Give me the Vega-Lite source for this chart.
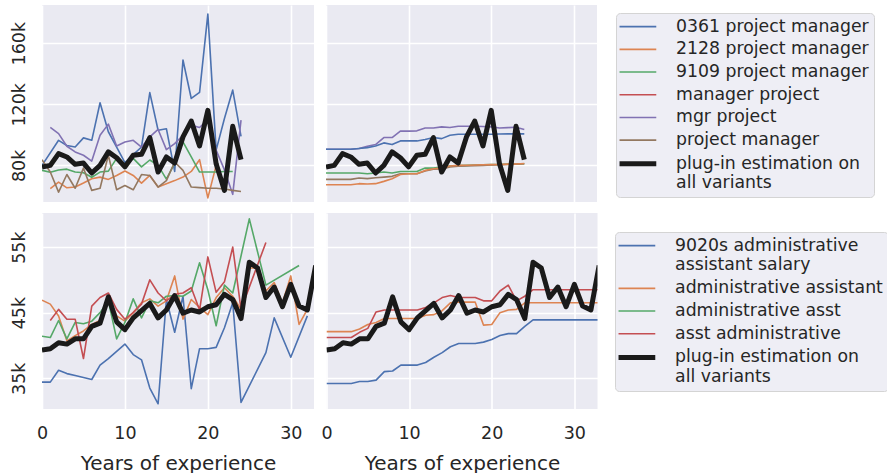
{
  "$schema": "https://vega.github.io/schema/vega-lite/v6.json",
  "background": "white",
  "padding": {"left": 10, "top": 5, "right": 0, "bottom": 0},
  "datasets": {
    "pmest": [
      {"s":"plug-in estimation on all variants","x":0,"y":78.9},{"s":"plug-in estimation on all variants","x":1,"y":80},{"s":"plug-in estimation on all variants","x":2,"y":87.7},{"s":"plug-in estimation on all variants","x":3,"y":85.5},{"s":"plug-in estimation on all variants","x":4,"y":80.7},{"s":"plug-in estimation on all variants","x":5,"y":81.5},{"s":"plug-in estimation on all variants","x":6,"y":75},{"s":"plug-in estimation on all variants","x":7,"y":80},{"s":"plug-in estimation on all variants","x":8,"y":88.8},{"s":"plug-in estimation on all variants","x":9,"y":85},{"s":"plug-in estimation on all variants","x":10,"y":79},{"s":"plug-in estimation on all variants","x":11,"y":86.6},{"s":"plug-in estimation on all variants","x":12,"y":87.2},{"s":"plug-in estimation on all variants","x":13,"y":98.2},{"s":"plug-in estimation on all variants","x":14,"y":75.6},{"s":"plug-in estimation on all variants","x":15,"y":85.5},{"s":"plug-in estimation on all variants","x":16,"y":81.5},{"s":"plug-in estimation on all variants","x":17,"y":98.6},{"s":"plug-in estimation on all variants","x":18,"y":109},{"s":"plug-in estimation on all variants","x":19,"y":92.7},{"s":"plug-in estimation on all variants","x":20,"y":116},{"s":"plug-in estimation on all variants","x":21,"y":81},{"s":"plug-in estimation on all variants","x":22,"y":63.6},{"s":"plug-in estimation on all variants","x":23,"y":105.6},{"s":"plug-in estimation on all variants","x":24,"y":83.7}
    ],
    "tl": [
      {"s":"0361 project manager","x":0,"y":80},{"s":"0361 project manager","x":2,"y":96.4},{"s":"0361 project manager","x":3,"y":93},{"s":"0361 project manager","x":4,"y":92},{"s":"0361 project manager","x":5,"y":98},{"s":"0361 project manager","x":6,"y":96.4},{"s":"0361 project manager","x":7,"y":121},{"s":"0361 project manager","x":8,"y":102},{"s":"0361 project manager","x":9,"y":92},{"s":"0361 project manager","x":10,"y":81.8},{"s":"0361 project manager","x":11,"y":87},{"s":"0361 project manager","x":12,"y":92},{"s":"0361 project manager","x":13,"y":127.6},{"s":"0361 project manager","x":14,"y":103},{"s":"0361 project manager","x":15,"y":104},{"s":"0361 project manager","x":16,"y":76},{"s":"0361 project manager","x":17,"y":149},{"s":"0361 project manager","x":18,"y":123.8},{"s":"0361 project manager","x":19,"y":127.8},{"s":"0361 project manager","x":20,"y":179},{"s":"0361 project manager","x":21,"y":90},{"s":"0361 project manager","x":22,"y":110.7},{"s":"0361 project manager","x":23,"y":129.3},{"s":"0361 project manager","x":24,"y":99},
      {"s":"2128 project manager","x":1,"y":64.7},{"s":"2128 project manager","x":2,"y":69},{"s":"2128 project manager","x":3,"y":65.3},{"s":"2128 project manager","x":4,"y":65.8},{"s":"2128 project manager","x":5,"y":68.4},{"s":"2128 project manager","x":6,"y":71.2},{"s":"2128 project manager","x":7,"y":72.3},{"s":"2128 project manager","x":8,"y":70.8},{"s":"2128 project manager","x":9,"y":73.4},{"s":"2128 project manager","x":10,"y":76.3},{"s":"2128 project manager","x":11,"y":73.4},{"s":"2128 project manager","x":12,"y":68.4},{"s":"2128 project manager","x":13,"y":73.4},{"s":"2128 project manager","x":14,"y":65.8},{"s":"2128 project manager","x":15,"y":68},{"s":"2128 project manager","x":16,"y":70},{"s":"2128 project manager","x":17,"y":72.3},{"s":"2128 project manager","x":18,"y":76},{"s":"2128 project manager","x":19,"y":83.7},{"s":"2128 project manager","x":20,"y":58.7},{"s":"2128 project manager","x":21,"y":80},
      {"s":"9109 project manager","x":0,"y":76.7},{"s":"9109 project manager","x":1,"y":75.5},{"s":"9109 project manager","x":2,"y":77},{"s":"9109 project manager","x":3,"y":77.5},{"s":"9109 project manager","x":4,"y":75.6},{"s":"9109 project manager","x":5,"y":75.2},{"s":"9109 project manager","x":6,"y":72.2},{"s":"9109 project manager","x":7,"y":75.6},{"s":"9109 project manager","x":8,"y":76.2},{"s":"9109 project manager","x":9,"y":84.6},{"s":"9109 project manager","x":10,"y":78.4},{"s":"9109 project manager","x":11,"y":84.6},{"s":"9109 project manager","x":12,"y":79},{"s":"9109 project manager","x":13,"y":83.5},{"s":"9109 project manager","x":14,"y":80},{"s":"9109 project manager","x":15,"y":71},{"s":"9109 project manager","x":16,"y":81.5},{"s":"9109 project manager","x":17,"y":95.3},{"s":"9109 project manager","x":18,"y":85.5},{"s":"9109 project manager","x":19,"y":75.6},{"s":"9109 project manager","x":20,"y":75.6},{"s":"9109 project manager","x":21,"y":75.6},{"s":"9109 project manager","x":22,"y":76},{"s":"9109 project manager","x":23,"y":76},
      {"s":"mgr project","x":1,"y":104.8},{"s":"mgr project","x":2,"y":100.8},{"s":"mgr project","x":3,"y":92.5},{"s":"mgr project","x":4,"y":88.8},{"s":"mgr project","x":5,"y":86.6},{"s":"mgr project","x":6,"y":82.8},{"s":"mgr project","x":7,"y":99.7},{"s":"mgr project","x":8,"y":107},{"s":"mgr project","x":9,"y":92.7},{"s":"mgr project","x":10,"y":95.3},{"s":"mgr project","x":11,"y":96.4},{"s":"mgr project","x":12,"y":92},{"s":"mgr project","x":13,"y":98.6},{"s":"mgr project","x":14,"y":103.5},{"s":"mgr project","x":15,"y":90.3},{"s":"mgr project","x":16,"y":94.2},{"s":"mgr project","x":17,"y":99.7},{"s":"mgr project","x":18,"y":106.3},{"s":"mgr project","x":19,"y":104.8},{"s":"mgr project","x":20,"y":110},{"s":"mgr project","x":21,"y":90},{"s":"mgr project","x":22,"y":77},{"s":"mgr project","x":23,"y":61},{"s":"mgr project","x":24,"y":109.6},
      {"s":"project manager","x":0,"y":83.7},{"s":"project manager","x":1,"y":75.6},{"s":"project manager","x":2,"y":62.5},{"s":"project manager","x":3,"y":74},{"s":"project manager","x":4,"y":65},{"s":"project manager","x":5,"y":78.2},{"s":"project manager","x":6,"y":63.6},{"s":"project manager","x":7,"y":65},{"s":"project manager","x":8,"y":86.6},{"s":"project manager","x":9,"y":64},{"s":"project manager","x":10,"y":66.8},{"s":"project manager","x":11,"y":64},{"s":"project manager","x":12,"y":74},{"s":"project manager","x":13,"y":73.4},{"s":"project manager","x":14,"y":65.8},{"s":"project manager","x":15,"y":70},{"s":"project manager","x":16,"y":82.2},{"s":"project manager","x":17,"y":76.7},{"s":"project manager","x":18,"y":65.8},{"s":"project manager","x":19,"y":65.4},{"s":"project manager","x":20,"y":65},{"s":"project manager","x":21,"y":65},{"s":"project manager","x":22,"y":64.5},{"s":"project manager","x":23,"y":63.6},{"s":"project manager","x":24,"y":62.9}
    ],
    "tr": [
      {"s":"mgr project","x":0,"y":90.5},{"s":"mgr project","x":1,"y":90.5},{"s":"mgr project","x":2,"y":90.5},{"s":"mgr project","x":3,"y":90.5},{"s":"mgr project","x":4,"y":91},{"s":"mgr project","x":5,"y":92.5},{"s":"mgr project","x":6,"y":93.6},{"s":"mgr project","x":7,"y":98.2},{"s":"mgr project","x":8,"y":98.2},{"s":"mgr project","x":9,"y":102.4},{"s":"mgr project","x":10,"y":102.4},{"s":"mgr project","x":11,"y":102.6},{"s":"mgr project","x":12,"y":104.5},{"s":"mgr project","x":13,"y":104.5},{"s":"mgr project","x":14,"y":105.2},{"s":"mgr project","x":15,"y":104.8},{"s":"mgr project","x":16,"y":105.6},{"s":"mgr project","x":17,"y":105.6},{"s":"mgr project","x":18,"y":105.6},{"s":"mgr project","x":19,"y":105.4},{"s":"mgr project","x":20,"y":105.2},{"s":"mgr project","x":21,"y":104.5},{"s":"mgr project","x":22,"y":104.7},{"s":"mgr project","x":23,"y":104.9},{"s":"mgr project","x":24,"y":103.5},
      {"s":"0361 project manager","x":0,"y":90.5},{"s":"0361 project manager","x":1,"y":90.5},{"s":"0361 project manager","x":2,"y":90.5},{"s":"0361 project manager","x":3,"y":90.5},{"s":"0361 project manager","x":4,"y":91},{"s":"0361 project manager","x":5,"y":91.6},{"s":"0361 project manager","x":6,"y":92.7},{"s":"0361 project manager","x":7,"y":94.7},{"s":"0361 project manager","x":8,"y":93.6},{"s":"0361 project manager","x":9,"y":96},{"s":"0361 project manager","x":10,"y":96},{"s":"0361 project manager","x":11,"y":96},{"s":"0361 project manager","x":12,"y":96.9},{"s":"0361 project manager","x":13,"y":98.2},{"s":"0361 project manager","x":14,"y":97.5},{"s":"0361 project manager","x":15,"y":99.7},{"s":"0361 project manager","x":16,"y":100.4},{"s":"0361 project manager","x":17,"y":100.4},{"s":"0361 project manager","x":18,"y":100.4},{"s":"0361 project manager","x":19,"y":100.4},{"s":"0361 project manager","x":20,"y":100.4},{"s":"0361 project manager","x":21,"y":100.5},{"s":"0361 project manager","x":22,"y":100.6},{"s":"0361 project manager","x":23,"y":100.6},{"s":"0361 project manager","x":24,"y":100.6},
      {"s":"9109 project manager","x":0,"y":75},{"s":"9109 project manager","x":1,"y":75},{"s":"9109 project manager","x":2,"y":75},{"s":"9109 project manager","x":3,"y":75},{"s":"9109 project manager","x":4,"y":75},{"s":"9109 project manager","x":5,"y":74.5},{"s":"9109 project manager","x":6,"y":75},{"s":"9109 project manager","x":7,"y":75.6},{"s":"9109 project manager","x":8,"y":75},{"s":"9109 project manager","x":9,"y":76},{"s":"9109 project manager","x":10,"y":76},{"s":"9109 project manager","x":11,"y":76},{"s":"9109 project manager","x":12,"y":78.2},{"s":"9109 project manager","x":13,"y":78.2},{"s":"9109 project manager","x":14,"y":78.9},{"s":"9109 project manager","x":15,"y":79.6},{"s":"9109 project manager","x":16,"y":79.8},{"s":"9109 project manager","x":17,"y":80},{"s":"9109 project manager","x":18,"y":80.2},{"s":"9109 project manager","x":19,"y":80.4},{"s":"9109 project manager","x":20,"y":80.5},{"s":"9109 project manager","x":21,"y":80.6},{"s":"9109 project manager","x":22,"y":80.8},{"s":"9109 project manager","x":23,"y":80.9},{"s":"9109 project manager","x":24,"y":81},
      {"s":"project manager","x":0,"y":70.8},{"s":"project manager","x":1,"y":70.8},{"s":"project manager","x":2,"y":70.8},{"s":"project manager","x":3,"y":70.8},{"s":"project manager","x":4,"y":71.7},{"s":"project manager","x":5,"y":71.3},{"s":"project manager","x":6,"y":71.9},{"s":"project manager","x":7,"y":72.3},{"s":"project manager","x":8,"y":72.8},{"s":"project manager","x":9,"y":74.5},{"s":"project manager","x":10,"y":74.5},{"s":"project manager","x":11,"y":74.5},{"s":"project manager","x":12,"y":76.3},{"s":"project manager","x":13,"y":77.4},{"s":"project manager","x":14,"y":77.6},{"s":"project manager","x":15,"y":78.9},{"s":"project manager","x":16,"y":79.4},{"s":"project manager","x":17,"y":79.6},{"s":"project manager","x":18,"y":79.8},{"s":"project manager","x":19,"y":80},{"s":"project manager","x":20,"y":80.2},{"s":"project manager","x":21,"y":80.4},{"s":"project manager","x":22,"y":80.6},{"s":"project manager","x":23,"y":80.8},{"s":"project manager","x":24,"y":81},
      {"s":"2128 project manager","x":0,"y":67.3},{"s":"2128 project manager","x":1,"y":67.3},{"s":"2128 project manager","x":2,"y":67.3},{"s":"2128 project manager","x":3,"y":67.3},{"s":"2128 project manager","x":4,"y":68},{"s":"2128 project manager","x":5,"y":67.8},{"s":"2128 project manager","x":6,"y":68},{"s":"2128 project manager","x":7,"y":69.5},{"s":"2128 project manager","x":8,"y":71.2},{"s":"2128 project manager","x":9,"y":74},{"s":"2128 project manager","x":10,"y":74.5},{"s":"2128 project manager","x":11,"y":74.5},{"s":"2128 project manager","x":12,"y":76.7},{"s":"2128 project manager","x":13,"y":77.8},{"s":"2128 project manager","x":14,"y":78.2},{"s":"2128 project manager","x":15,"y":79.6},{"s":"2128 project manager","x":16,"y":80},{"s":"2128 project manager","x":17,"y":80.1},{"s":"2128 project manager","x":18,"y":80.2},{"s":"2128 project manager","x":19,"y":80.4},{"s":"2128 project manager","x":20,"y":80.5},{"s":"2128 project manager","x":21,"y":80.6},{"s":"2128 project manager","x":22,"y":80.8},{"s":"2128 project manager","x":23,"y":80.9},{"s":"2128 project manager","x":24,"y":81.2}
    ],
    "aaest": [
      {"s":"plug-in estimation on all variants","x":0,"y":39.3},{"s":"plug-in estimation on all variants","x":1,"y":39.5},{"s":"plug-in estimation on all variants","x":2,"y":40.4},{"s":"plug-in estimation on all variants","x":3,"y":40.2},{"s":"plug-in estimation on all variants","x":4,"y":41},{"s":"plug-in estimation on all variants","x":5,"y":41},{"s":"plug-in estimation on all variants","x":6,"y":42.9},{"s":"plug-in estimation on all variants","x":7,"y":43.4},{"s":"plug-in estimation on all variants","x":8,"y":47.4},{"s":"plug-in estimation on all variants","x":9,"y":43.6},{"s":"plug-in estimation on all variants","x":10,"y":42.4},{"s":"plug-in estimation on all variants","x":11,"y":44.2},{"s":"plug-in estimation on all variants","x":12,"y":45.3},{"s":"plug-in estimation on all variants","x":13,"y":46.4},{"s":"plug-in estimation on all variants","x":14,"y":44.2},{"s":"plug-in estimation on all variants","x":15,"y":45.4},{"s":"plug-in estimation on all variants","x":16,"y":47.6},{"s":"plug-in estimation on all variants","x":17,"y":44.9},{"s":"plug-in estimation on all variants","x":18,"y":45.4},{"s":"plug-in estimation on all variants","x":19,"y":45.1},{"s":"plug-in estimation on all variants","x":20,"y":45.9},{"s":"plug-in estimation on all variants","x":21,"y":46.2},{"s":"plug-in estimation on all variants","x":22,"y":47.8},{"s":"plug-in estimation on all variants","x":23,"y":47},{"s":"plug-in estimation on all variants","x":24,"y":44.1},{"s":"plug-in estimation on all variants","x":25,"y":52.7},{"s":"plug-in estimation on all variants","x":26,"y":51.8},{"s":"plug-in estimation on all variants","x":27,"y":47.3},{"s":"plug-in estimation on all variants","x":28,"y":48.9},{"s":"plug-in estimation on all variants","x":29,"y":45.9},{"s":"plug-in estimation on all variants","x":30,"y":49.3},{"s":"plug-in estimation on all variants","x":31,"y":46},{"s":"plug-in estimation on all variants","x":32,"y":45.4},{"s":"plug-in estimation on all variants","x":33,"y":52.2}
    ],
    "bl": [
      {"s":"9020s administrative assistant salary","x":0,"y":34.4},{"s":"9020s administrative assistant salary","x":1,"y":34.4},{"s":"9020s administrative assistant salary","x":2,"y":36.2},{"s":"9020s administrative assistant salary","x":3,"y":35.7},{"s":"9020s administrative assistant salary","x":4,"y":35.4},{"s":"9020s administrative assistant salary","x":5,"y":35.1},{"s":"9020s administrative assistant salary","x":6,"y":34.8},{"s":"9020s administrative assistant salary","x":7,"y":37},{"s":"9020s administrative assistant salary","x":8,"y":38},{"s":"9020s administrative assistant salary","x":9,"y":39.1},{"s":"9020s administrative assistant salary","x":10,"y":40.2},{"s":"9020s administrative assistant salary","x":11,"y":38.6},{"s":"9020s administrative assistant salary","x":12,"y":37.8},{"s":"9020s administrative assistant salary","x":13,"y":33.5},{"s":"9020s administrative assistant salary","x":14,"y":31.1},{"s":"9020s administrative assistant salary","x":15,"y":47},{"s":"9020s administrative assistant salary","x":16,"y":42},{"s":"9020s administrative assistant salary","x":17,"y":47.5},{"s":"9020s administrative assistant salary","x":18,"y":33.4},{"s":"9020s administrative assistant salary","x":19,"y":39.5},{"s":"9020s administrative assistant salary","x":20,"y":39.5},{"s":"9020s administrative assistant salary","x":21,"y":39.7},{"s":"9020s administrative assistant salary","x":22,"y":42.7},{"s":"9020s administrative assistant salary","x":23,"y":46.5},{"s":"9020s administrative assistant salary","x":24,"y":31.3},{"s":"9020s administrative assistant salary","x":27,"y":38.9},{"s":"9020s administrative assistant salary","x":28,"y":44.2},{"s":"9020s administrative assistant salary","x":30,"y":38.2},{"s":"9020s administrative assistant salary","x":32,"y":44.5},
      {"s":"administrative assistant","x":0,"y":46.9},{"s":"administrative assistant","x":1,"y":46.3},{"s":"administrative assistant","x":2,"y":44.5},{"s":"administrative assistant","x":3,"y":40.7},{"s":"administrative assistant","x":4,"y":41.5},{"s":"administrative assistant","x":5,"y":42.2},{"s":"administrative assistant","x":6,"y":43.2},{"s":"administrative assistant","x":7,"y":43.8},{"s":"administrative assistant","x":8,"y":47.5},{"s":"administrative assistant","x":9,"y":44.5},{"s":"administrative assistant","x":10,"y":43.7},{"s":"administrative assistant","x":11,"y":45},{"s":"administrative assistant","x":12,"y":46.5},{"s":"administrative assistant","x":13,"y":47.1},{"s":"administrative assistant","x":14,"y":46},{"s":"administrative assistant","x":15,"y":46.8},{"s":"administrative assistant","x":16,"y":50.6},{"s":"administrative assistant","x":17,"y":44},{"s":"administrative assistant","x":18,"y":47},{"s":"administrative assistant","x":19,"y":45.8},{"s":"administrative assistant","x":20,"y":44.7},{"s":"administrative assistant","x":21,"y":47.3},{"s":"administrative assistant","x":22,"y":48.8},{"s":"administrative assistant","x":23,"y":47.5},{"s":"administrative assistant","x":24,"y":45.5},{"s":"administrative assistant","x":25,"y":51.8},{"s":"administrative assistant","x":26,"y":51.8},{"s":"administrative assistant","x":27,"y":48.3},{"s":"administrative assistant","x":28,"y":49.6},{"s":"administrative assistant","x":29,"y":46.5},{"s":"administrative assistant","x":30,"y":50.6},{"s":"administrative assistant","x":31,"y":43.2},{"s":"administrative assistant","x":32,"y":45.5},
      {"s":"administrative asst","x":0,"y":41.4},{"s":"administrative asst","x":1,"y":41.2},{"s":"administrative asst","x":2,"y":43.8},{"s":"administrative asst","x":3,"y":41},{"s":"administrative asst","x":4,"y":43.5},{"s":"administrative asst","x":5,"y":43.3},{"s":"administrative asst","x":6,"y":43.7},{"s":"administrative asst","x":7,"y":45},{"s":"administrative asst","x":8,"y":46.8},{"s":"administrative asst","x":9,"y":41},{"s":"administrative asst","x":10,"y":43.5},{"s":"administrative asst","x":11,"y":47.1},{"s":"administrative asst","x":12,"y":44.2},{"s":"administrative asst","x":13,"y":46.8},{"s":"administrative asst","x":14,"y":46.5},{"s":"administrative asst","x":15,"y":47.5},{"s":"administrative asst","x":16,"y":47.6},{"s":"administrative asst","x":17,"y":47.5},{"s":"administrative asst","x":18,"y":48.3},{"s":"administrative asst","x":19,"y":52.6},{"s":"administrative asst","x":20,"y":48.5},{"s":"administrative asst","x":21,"y":43},{"s":"administrative asst","x":22,"y":49.2},{"s":"administrative asst","x":23,"y":48},{"s":"administrative asst","x":25,"y":59.3},{"s":"administrative asst","x":27,"y":49.2},{"s":"administrative asst","x":31,"y":52.2},
      {"s":"asst administrative","x":1,"y":43.8},{"s":"asst administrative","x":2,"y":45.5},{"s":"asst administrative","x":3,"y":44},{"s":"asst administrative","x":4,"y":44},{"s":"asst administrative","x":5,"y":38},{"s":"asst administrative","x":6,"y":46},{"s":"asst administrative","x":7,"y":47.3},{"s":"asst administrative","x":8,"y":48},{"s":"asst administrative","x":9,"y":45.5},{"s":"asst administrative","x":10,"y":44},{"s":"asst administrative","x":11,"y":45},{"s":"asst administrative","x":12,"y":46.3},{"s":"asst administrative","x":13,"y":50},{"s":"asst administrative","x":14,"y":48},{"s":"asst administrative","x":15,"y":46.8},{"s":"asst administrative","x":16,"y":47.8},{"s":"asst administrative","x":17,"y":48},{"s":"asst administrative","x":18,"y":48.8},{"s":"asst administrative","x":19,"y":45.4},{"s":"asst administrative","x":20,"y":53.5},{"s":"asst administrative","x":21,"y":48.1},{"s":"asst administrative","x":22,"y":49.7},{"s":"asst administrative","x":23,"y":55},{"s":"asst administrative","x":24,"y":45.5},{"s":"asst administrative","x":27,"y":55.7}
    ],
    "br": [
      {"s":"9020s administrative assistant salary","x":0,"y":34.2},{"s":"9020s administrative assistant salary","x":3,"y":34.2},{"s":"9020s administrative assistant salary","x":4,"y":34.5},{"s":"9020s administrative assistant salary","x":5,"y":34.5},{"s":"9020s administrative assistant salary","x":6,"y":34.7},{"s":"9020s administrative assistant salary","x":7,"y":36},{"s":"9020s administrative assistant salary","x":8,"y":36.1},{"s":"9020s administrative assistant salary","x":9,"y":37},{"s":"9020s administrative assistant salary","x":10,"y":37},{"s":"9020s administrative assistant salary","x":11,"y":37},{"s":"9020s administrative assistant salary","x":12,"y":37.4},{"s":"9020s administrative assistant salary","x":13,"y":38.2},{"s":"9020s administrative assistant salary","x":14,"y":38.9},{"s":"9020s administrative assistant salary","x":15,"y":39.8},{"s":"9020s administrative assistant salary","x":16,"y":40.3},{"s":"9020s administrative assistant salary","x":17,"y":40.3},{"s":"9020s administrative assistant salary","x":18,"y":40.3},{"s":"9020s administrative assistant salary","x":19,"y":40.5},{"s":"9020s administrative assistant salary","x":20,"y":40.9},{"s":"9020s administrative assistant salary","x":21,"y":41.5},{"s":"9020s administrative assistant salary","x":22,"y":41.8},{"s":"9020s administrative assistant salary","x":23,"y":41.8},{"s":"9020s administrative assistant salary","x":24,"y":42.9},{"s":"9020s administrative assistant salary","x":25,"y":43.9},{"s":"9020s administrative assistant salary","x":33,"y":43.9},
      {"s":"administrative assistant","x":0,"y":42.1},{"s":"administrative assistant","x":3,"y":42.1},{"s":"administrative assistant","x":4,"y":42.5},{"s":"administrative assistant","x":5,"y":43.2},{"s":"administrative assistant","x":6,"y":43.5},{"s":"administrative assistant","x":7,"y":44.1},{"s":"administrative assistant","x":11,"y":44.1},{"s":"administrative assistant","x":12,"y":44.6},{"s":"administrative assistant","x":13,"y":44.7},{"s":"administrative assistant","x":14,"y":45.3},{"s":"administrative assistant","x":15,"y":46.5},{"s":"administrative assistant","x":16,"y":46.6},{"s":"administrative assistant","x":18,"y":46.6},{"s":"administrative assistant","x":19,"y":43.1},{"s":"administrative assistant","x":20,"y":43.2},{"s":"administrative assistant","x":21,"y":45},{"s":"administrative assistant","x":22,"y":45.4},{"s":"administrative assistant","x":23,"y":45.5},{"s":"administrative assistant","x":24,"y":46.5},{"s":"administrative assistant","x":33,"y":46.5},
      {"s":"asst administrative","x":0,"y":41.2},{"s":"asst administrative","x":3,"y":41.2},{"s":"asst administrative","x":4,"y":42},{"s":"asst administrative","x":5,"y":42.6},{"s":"asst administrative","x":6,"y":45.1},{"s":"asst administrative","x":7,"y":45.4},{"s":"asst administrative","x":11,"y":45.4},{"s":"asst administrative","x":12,"y":45.8},{"s":"asst administrative","x":13,"y":46.5},{"s":"asst administrative","x":14,"y":47.3},{"s":"asst administrative","x":15,"y":47.6},{"s":"asst administrative","x":16,"y":47.3},{"s":"asst administrative","x":18,"y":47.3},{"s":"asst administrative","x":19,"y":46.8},{"s":"asst administrative","x":20,"y":46.8},{"s":"asst administrative","x":21,"y":48.3},{"s":"asst administrative","x":22,"y":49.2},{"s":"asst administrative","x":23,"y":46.8},{"s":"asst administrative","x":24,"y":47.5},{"s":"asst administrative","x":25,"y":48.5},{"s":"asst administrative","x":33,"y":48.5}
    ]
  },
  "config": {
    "font": "DejaVu Sans",
    "view": {"stroke": null, "fill": "#EAEAF2"},
    "axis": {"domain": false, "ticks": false, "tickSize": 0, "grid": true, "gridColor": "#FFFFFF", "gridWidth": 1.6, "gridOpacity": 1, "labelFlush": false, "labelFont": "DejaVu Sans", "labelFontSize": 17.5, "labelColor": "#262626", "titleFont": "DejaVu Sans", "titleFontSize": 20, "titleFontWeight": "normal", "titleColor": "#262626"},
    "legend": {"symbolType": "M-3,0H3", "symbolSize": 150, "symbolOffset": 8.25, "labelOffset": 29.5, "labelFont": "DejaVu Sans", "labelFontSize": 17.3, "labelColor": "#262626", "labelLimit": 400, "fillColor": "#EEEEF5", "strokeColor": "#D4D4D4", "cornerRadius": 4, "padding": 5, "rowPadding": 4.7, "title": null}
  },
  "vconcat": [
    {
      "hconcat": [
        {
          "width": 272, "height": 197,
          "layer": [
            {"data": {"name": "tl"}, "mark": {"type": "line", "strokeWidth": 1.6, "strokeJoin": "round", "clip": true}},
            {"data": {"name": "pmest"}, "mark": {"type": "line", "strokeWidth": 5, "strokeJoin": "round", "clip": true}}
          ],
          "encoding": {
            "x": {"field": "x", "type": "quantitative", "scale": {"domain": [0, 32.8], "nice": false, "zero": false}, "axis": {"values": [0, 10, 20, 30], "labels": false, "title": null}},
            "y": {"field": "y", "type": "quantitative", "scale": {"domain": [56, 185], "nice": false, "zero": false}, "axis": {"values": [80, 120, 160], "labelExpr": "datum.value + 'k'", "labelAngle": -90, "labelPadding": 14, "title": null}},
            "color": {"field": "s", "type": "nominal", "scale": {"domain": ["0361 project manager", "2128 project manager", "9109 project manager", "manager project", "mgr project", "project manager", "plug-in estimation on all variants"], "range": ["#4C72B0", "#DD8452", "#55A868", "#C44E52", "#8172B3", "#937860", "#1A1A1A"]}, "legend": {"title": null, "orient": "none", "legendX": 574, "legendY": 8, "labelExpr": "datum.label == 'plug-in estimation on all variants' ? ['plug-in estimation on', 'all variants'] : datum.label", "encode": {"symbols": {"update": {"strokeWidth": {"signal": "datum.value == 'plug-in estimation on all variants' ? 5 : 1.6"}}}, "labels": {"update": {"lineHeight": {"value": 19.5}}}}}}
          }
        },
        {
          "width": 271, "height": 197,
          "layer": [
            {"data": {"name": "tr"}, "mark": {"type": "line", "strokeWidth": 1.6, "strokeJoin": "round", "clip": true}},
            {"data": {"name": "pmest"}, "mark": {"type": "line", "strokeWidth": 5, "strokeJoin": "round", "clip": true}}
          ],
          "encoding": {
            "x": {"field": "x", "type": "quantitative", "scale": {"domain": [0, 32.8], "nice": false, "zero": false}, "axis": {"values": [0, 10, 20, 30], "labels": false, "title": null}},
            "y": {"field": "y", "type": "quantitative", "scale": {"domain": [56, 185], "nice": false, "zero": false}, "axis": {"values": [80, 120, 160], "labels": false, "title": null}},
            "color": {"field": "s", "type": "nominal"}
          }
        }
      ],
      "spacing": 12,
      "resolve": {"scale": {"x": "independent", "y": "independent", "color": "shared"}}
    },
    {
      "hconcat": [
        {
          "width": 272, "height": 196,
          "layer": [
            {"data": {"name": "bl"}, "mark": {"type": "line", "strokeWidth": 1.6, "strokeJoin": "round", "clip": true}},
            {"data": {"name": "aaest"}, "mark": {"type": "line", "strokeWidth": 5, "strokeJoin": "round", "clip": true}}
          ],
          "encoding": {
            "x": {"field": "x", "type": "quantitative", "scale": {"domain": [0, 32.8], "nice": false, "zero": false}, "axis": {"values": [0, 10, 20, 30], "labelPadding": 15, "title": "Years of experience", "titlePadding": 12}},
            "y": {"field": "y", "type": "quantitative", "scale": {"domain": [30.3, 60.2], "nice": false, "zero": false}, "axis": {"values": [35, 45, 55], "labelExpr": "datum.value + 'k'", "labelAngle": -90, "labelPadding": 14, "title": null}},
            "color": {"field": "s", "type": "nominal", "scale": {"domain": ["9020s administrative assistant salary", "administrative assistant", "administrative asst", "asst administrative", "plug-in estimation on all variants"], "range": ["#4C72B0", "#DD8452", "#55A868", "#C44E52", "#1A1A1A"]}, "legend": {"title": null, "orient": "none", "legendX": 573, "legendY": 19, "labelExpr": "datum.label == 'plug-in estimation on all variants' ? ['plug-in estimation on', 'all variants'] : datum.label == '9020s administrative assistant salary' ? ['9020s administrative', 'assistant salary'] : datum.label", "encode": {"symbols": {"update": {"strokeWidth": {"signal": "datum.value == 'plug-in estimation on all variants' ? 5 : 1.6"}}}, "labels": {"update": {"lineHeight": {"value": 19.5}}}}}}
          }
        },
        {
          "width": 271, "height": 196,
          "layer": [
            {"data": {"name": "br"}, "mark": {"type": "line", "strokeWidth": 1.6, "strokeJoin": "round", "clip": true}},
            {"data": {"name": "aaest"}, "mark": {"type": "line", "strokeWidth": 5, "strokeJoin": "round", "clip": true}}
          ],
          "encoding": {
            "x": {"field": "x", "type": "quantitative", "scale": {"domain": [0, 32.8], "nice": false, "zero": false}, "axis": {"values": [0, 10, 20, 30], "labelPadding": 15, "title": "Years of experience", "titlePadding": 12}},
            "y": {"field": "y", "type": "quantitative", "scale": {"domain": [30.3, 60.2], "nice": false, "zero": false}, "axis": {"values": [35, 45, 55], "labels": false, "title": null}},
            "color": {"field": "s", "type": "nominal"}
          }
        }
      ],
      "spacing": 6.5,
      "resolve": {"scale": {"x": "independent", "y": "independent", "color": "shared"}}
    }
  ],
  "spacing": 11,
  "resolve": {"scale": {"x": "independent", "y": "independent", "color": "independent"}}
}
